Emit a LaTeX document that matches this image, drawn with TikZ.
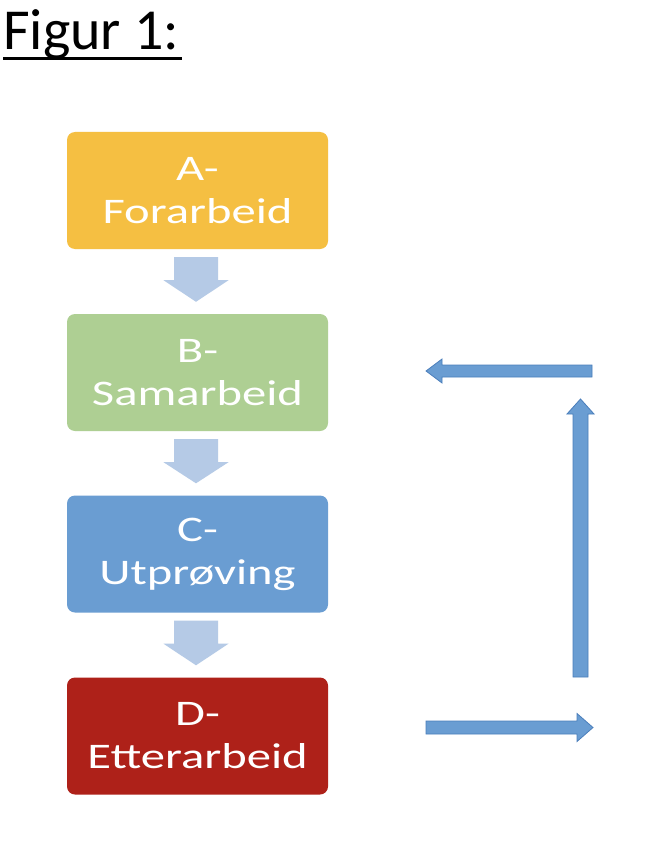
\documentclass[tikz,border=0pt]{standalone}
\usepackage{fontspec}
\setmainfont{Carlito}
\newfontfamily\boxfont[FakeStretch=1.35]{Carlito}
\usetikzlibrary{calc}
\definecolor{cA}{HTML}{F5BF42}
\definecolor{cB}{HTML}{AECF93}
\definecolor{cC}{HTML}{6A9DD2}
\definecolor{cD}{HTML}{AE2119}
\definecolor{downarr}{HTML}{B5CAE6}
\definecolor{sidearr}{HTML}{6A9DD2}
\definecolor{sideedge}{HTML}{4A7EBB}
\tikzset{
  stage/.style={rounded corners=8pt, minimum width=261pt, minimum height=117pt,
    inner sep=0pt, text=white, align=center,
    font=\boxfont\fontsize{36}{43}\selectfont},
  downfill/.style={fill=downarr, draw=none},
  sidefill/.style={fill=sidearr, draw=sideedge, line width=0.8pt, line join=miter},
}
\begin{document}
\begin{tikzpicture}[x=1pt,y=-1pt]
\useasboundingbox (0,0) rectangle (658,848);
\fill[white] (0,0) rectangle (658,848);
% title
\node[anchor=base west, inner sep=0pt, font=\fontsize{58}{62}\selectfont] (title) at (3,50) {Figur 1:};
\draw[line width=3pt] ($(title.base west)+(0,9)$) -- ($(title.base east)+(3,9)$);
% stages
\node[stage, fill=cA] (A) at (197.5,190.5) {A-\\Forarbeid};
\node[stage, fill=cB] (B) at (197.5,372.5) {B-\\Samarbeid};
\node[stage, fill=cC] (C) at (197.5,554) {C-\\Utprøving};
\node[stage, fill=cD] (D) at (197.5,736) {D-\\Etterarbeid};
% down block arrows between stages
\foreach \u/\v in {A/B, B/C, C/D} {
  \coordinate (top) at ($(\u.south)+(-1.5,8)$);
  \coordinate (tip) at ($(\v.north)+(-1.5,-12)$);
  \fill[downfill] ($(top)+(-22,0)$) -- ($(top)+(22,0)$) -- ($(top)+(22,23)$)
     -- ($(top)+(32.5,23)$) -- (tip) -- ($(top)+(-32.5,23)$) -- ($(top)+(-22,23)$) -- cycle;
}
% side arrows
\coordinate (ltail) at (592,371);
\coordinate (ltip) at (426,371);
\draw[sidefill] ($(ltail)+(0,-6)$) -- ($(ltip)+(16,-6)$) -- ($(ltip)+(16,-12)$) -- (ltip)
  -- ($(ltip)+(16,12)$) -- ($(ltip)+(16,6)$) -- ($(ltail)+(0,6)$) -- cycle;
\coordinate (vtail) at (580.5,677);
\coordinate (vtip) at (580.5,399);
\draw[sidefill] ($(vtail)+(-7.5,0)$) -- ($(vtip)+(-7.5,15)$) -- ($(vtip)+(-13.5,15)$) -- (vtip)
  -- ($(vtip)+(13.5,15)$) -- ($(vtip)+(7.5,15)$) -- ($(vtail)+(7.5,0)$) -- cycle;
\coordinate (rtail) at (426,727.5);
\coordinate (rtip) at (593,727.5);
\draw[sidefill] ($(rtail)+(0,-6.5)$) -- ($(rtip)+(-16,-6.5)$) -- ($(rtip)+(-16,-14)$) -- (rtip)
  -- ($(rtip)+(-16,14)$) -- ($(rtip)+(-16,6.5)$) -- ($(rtail)+(0,6.5)$) -- cycle;
\end{tikzpicture}
\end{document}
